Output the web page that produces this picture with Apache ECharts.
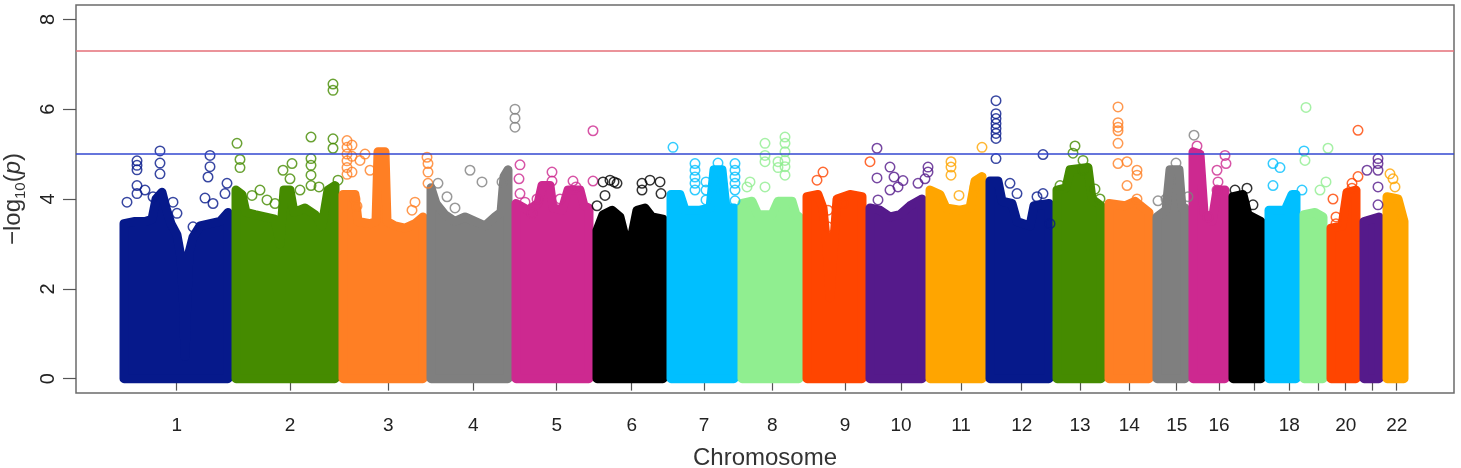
<!DOCTYPE html>
<html><head><meta charset="utf-8">
<script src="https://cdn.jsdelivr.net/npm/echarts@6/dist/echarts.min.js"></script>
<style>html,body{margin:0;padding:0;background:#fff}#chart{width:1461px;height:468px}</style>
</head><body><div id="chart"></div>
<script>
// Chromosome labels and the x positions (cumulative index units) of their axis ticks
const chromosomes = ['1','2','3','4','5','6','7','8','9','10','11','12','13','14','15','16','17','18','19','20','21','22'];
const tickPositions = [100.7,214,312.3,397.3,480.7,555.7,628,696.3,769,825,885,945.7,1004,1053.3,1100.7,1143,1178,1213.3,1242.3,1269.7,1296.7,1320.7];
const hiddenLabels = ['17','19','21'];
const palette = ['#06198b','#458B00','#FF7F24','#7F7F7F','#CD2990','#000000','#00BFFF','#90EE90','#FF4500','#551A8B','#FFA500'];
const yTicks = [0,2,4,6,8];
const suggestiveLine = 5;
const genomeWideLine = 7.3;

// Upper envelope of the dense SNP cloud per chromosome: [position, -log10(p)]
const envelope = [
  [[48,3.45],[59,3.5],[69,3.5],[76,3.55],[80,4.0],[86,4.15],[90,3.8],[95,3.45],[101,3.2],[105,2.7],[107.5,1.7],[109,0.5],[110.5,1.5],[113,2.8],[117,3.15],[124,3.4],[134,3.45],[144,3.5],[152,3.7]],
  [[160,4.2],[166,4.1],[170,3.7],[179,3.65],[189,3.6],[199,3.55],[204,3.0],[208,4.2],[214,4.2],[218,3.7],[229,3.8],[239,3.65],[246,3.4],[252,4.2],[259,4.3]],
  [[267,4.1],[279,4.1],[282,3.5],[294,3.45],[300,3.5],[302,5.05],[309,5.05],[311,3.5],[319,3.4],[329,3.35],[339,3.45],[347,3.6]],
  [[355,4.25],[360,3.9],[369,3.65],[379,3.5],[389,3.6],[399,3.5],[409,3.4],[419,3.6],[425,3.7],[428,4.5],[432,4.65]],
  [[440,3.9],[452,3.75],[462,3.9],[466,4.3],[474,4.3],[477,3.8],[486,3.75],[492,4.2],[504,4.2],[508,3.85],[513,3.8]],
  [[521,3.3],[527,3.65],[536,3.75],[544,3.6],[549,3.15],[556,3.2],[561,3.75],[569,3.8],[576,3.6],[587,3.55]],
  [[595,4.1],[604,4.1],[609,3.75],[624,3.75],[634,3.8],[638,4.65],[646,4.65],[650,3.8],[658,3.8]],
  [[666,3.9],[676,3.95],[682,3.65],[696,3.65],[702,3.95],[716,3.95],[720,3.65],[723,3.6]],
  [[731,4.05],[742,4.1],[747,3.8],[751,2.9],[754,1.8],[757,2.8],[761,4.0],[774,4.1],[786,4.05]],
  [[794,3.8],[804,3.75],[814,3.6],[824,3.65],[834,3.85],[846,4.0]],
  [[854,4.2],[864,4.1],[870,3.8],[884,3.75],[894,3.8],[899,4.4],[906,4.5]],
  [[914,4.4],[922,4.4],[926,3.95],[936,3.9],[941,3.5],[954,3.4],[958,3.85],[973,3.9]],
  [[981,4.2],[990,4.25],[994,4.65],[1012,4.7],[1016,4.0],[1025,3.85]],
  [[1033,3.9],[1049,3.85],[1059,3.95],[1073,3.7]],
  [[1081,3.6],[1090,3.75],[1094,4.65],[1103,4.65],[1106,3.8],[1109,3.8]],
  [[1117,5.05],[1124,5.0],[1128,3.7],[1136,3.5],[1141,4.2],[1149,4.2]],
  [[1157,4.05],[1167,4.1],[1172,3.65],[1185,3.5]],
  [[1193,3.75],[1209,3.75],[1216,4.1],[1220,4.1]],
  [[1228,3.65],[1239,3.7],[1247,3.6]],
  [[1255,3.35],[1266,3.4],[1271,4.15],[1280,4.2]],
  [[1288,3.5],[1303,3.6]],
  [[1311,4.05],[1322,4.0],[1328,3.5]]
];

// Individual SNPs standing out above the cloud: [position, -log10(p)]
const topHits = [
  [[51,3.93],[61,4.85],[61,4.75],[61,4.65],[61,4.3],[61,4.12],[69,4.2],[77,4.05],[84,5.07],[84,4.8],[84,4.56],[97,3.93],[101,3.68],[117,3.38],[129,4.02],[134,4.97],[134,4.72],[132,4.49],[137,3.9],[151,4.35],[149,4.12]],
  [[161,5.24],[164,4.88],[164,4.7],[176,4.08],[184,4.2],[191,3.98],[199,3.9],[207,4.64],[216,4.79],[214,4.45],[224,4.2],[235,5.38],[235,4.9],[235,4.75],[235,4.53],[235,4.3],[243,4.27],[257,6.56],[257,6.42],[257,5.34],[257,5.13],[262,4.42]],
  [[271,5.3],[271,5.15],[271,5.0],[271,4.85],[271,4.7],[271,4.55],[276,5.2],[276,4.95],[276,4.6],[284,4.86],[289,5.0],[294,4.64],[279,4.0],[281,3.84],[339,3.93],[336,3.75],[351,4.93],[352,4.79],[352,4.6],[352,4.35]],
  [[362,4.35],[371,4.05],[379,3.8],[394,4.64],[406,4.38],[426,4.38],[439,6.0],[439,5.8],[439,5.6]],
  [[444,4.76],[443,4.45],[444,4.12],[449,3.93],[456,3.68],[476,4.6],[476,4.4],[497,4.4],[500,4.27],[517,5.52],[517,4.4],[461,4.0],[484,4.0]],
  [[521,3.85],[527,4.38],[529,4.08],[534,4.42],[538,4.38],[541,4.35],[566,4.35],[566,4.2],[574,4.42],[584,4.38],[585,4.12]],
  [[597,5.15],[619,4.79],[619,4.64],[619,4.49],[619,4.35],[619,4.2],[630,4.38],[630,4.2],[630,3.98],[642,4.8],[659,4.79],[659,4.64],[659,4.49],[659,4.35],[659,4.2],[659,3.96]],
  [[689,5.24],[689,4.97],[689,4.83],[709,5.38],[709,5.24],[709,5.05],[709,4.86],[709,4.72],[709,4.53],[702,4.83],[702,4.7],[674,4.38],[689,4.27],[671,4.27]],
  [[741,4.42],[747,4.6],[752,3.75],[752,3.38],[767,3.9],[794,4.83]],
  [[801,5.13],[801,4.47],[814,4.71],[818,4.49],[827,4.41],[822,4.27],[814,4.2],[842,4.35],[852,4.71],[852,4.6],[849,4.45],[802,3.98]],
  [[875,4.83],[875,4.71],[875,4.53],[883,4.08],[906,5.15],[899,4.27]],
  [[920,6.19],[920,5.9],[920,5.79],[920,5.68],[920,5.57],[920,5.46],[920,5.35],[920,4.9],[934,4.35],[941,4.12],[967,4.99],[961,4.05],[967,4.12],[974,3.45]],
  [[999,5.18],[997,5.02],[1007,4.86],[1007,4.64],[984,4.3],[1019,4.22],[1024,4.0]],
  [[1042,6.05],[1042,5.7],[1042,5.6],[1042,5.52],[1042,5.24],[1042,4.79],[1051,4.83],[1061,4.64],[1061,4.53],[1051,4.3],[1061,4.0]],
  [[1100,4.8],[1082,3.96],[1090,4.0],[1112,4.05],[1118,5.42]],
  [[1121,5.18],[1149,4.97],[1150,4.79],[1141,4.64],[1142,4.38],[1141,4.2],[1132,3.6]],
  [[1171,4.24],[1177,3.87],[1159,4.2]],
  [[1197,4.79],[1204,4.7],[1197,4.3],[1228,5.07],[1226,4.2]],
  [[1230,6.04],[1229,4.86],[1252,5.13],[1250,4.38],[1244,4.2]],
  [[1282,5.53],[1282,4.5],[1276,4.35],[1276,4.24],[1257,4.0],[1260,3.6],[1260,3.45]],
  [[1302,4.9],[1302,4.79],[1302,4.64],[1291,4.64],[1302,4.27],[1302,3.87]],
  [[1314,4.56],[1317,4.45],[1319,4.27],[1326,3.53]]
];

const colorOf = i => palette[i % palette.length];
const FONT = '"Liberation Sans", Arial, Helvetica, sans-serif';

const hitData = [];
topHits.forEach((list, i) => list.forEach(p => hitData.push({value: p, itemStyle: {borderColor: colorOf(i)}})));

const labelValues = tickPositions.filter((v, i) => hiddenLabels.indexOf(chromosomes[i]) < 0);

const chart = echarts.init(document.getElementById('chart'), null, {renderer: 'canvas'});
chart.setOption({
  animation: false,
  backgroundColor: '#ffffff',
  grid: {left: 76, right: 7, top: 5, bottom: 75, containLabel: false, outerBoundsMode: 'none',
         show: true, borderColor: '#6b6b6b', borderWidth: 1.5, backgroundColor: 'transparent'},
  xAxis: {
    type: 'value', min: 0, max: 1378,
    axisLine: {show: false}, splitLine: {show: false},
    axisTick: {show: true, customValues: tickPositions, length: 12, lineStyle: {color: '#555', width: 1.2}},
    axisLabel: {
      customValues: labelValues, margin: 23, fontSize: 19, color: '#222', fontFamily: FONT,
      formatter: v => { for (let i = 0; i < tickPositions.length; i++) if (Math.abs(tickPositions[i] - v) < 0.01) return chromosomes[i]; return ''; }
    },
    name: 'Chromosome', nameLocation: 'middle', nameGap: 53,
    nameTextStyle: {fontSize: 24, color: '#333', fontFamily: FONT}
  },
  yAxis: {
    type: 'value', min: -0.32, max: 8.32,
    axisLine: {show: false}, splitLine: {show: false},
    axisTick: {show: true, customValues: yTicks, length: 13, lineStyle: {color: '#555', width: 1.2}},
    axisLabel: {customValues: yTicks, rotate: 90, margin: 18, fontSize: 20, color: '#222', fontFamily: FONT},
    name: '\u2212log{sub|10}({it|p})', nameLocation: 'middle', nameGap: 48, nameRotate: 90,
    nameTextStyle: {
      fontSize: 24, color: '#333', fontFamily: FONT, lineHeight: 30,
      rich: {
        sub: {fontSize: 15, fontFamily: FONT, color: '#333', verticalAlign: 'bottom', lineHeight: 15},
        it: {fontSize: 24, fontFamily: FONT, color: '#333', fontStyle: 'italic', lineHeight: 30}
      }
    }
  },
  series: [
    {
      type: 'custom', coordinateSystem: 'cartesian2d', clip: false, silent: true,
      data: envelope.map((e, i) => [e[0][0], 0, i]),
      encode: {x: 0, y: 1},
      renderItem: function (params, api) {
        const i = api.value(2);
        const env = envelope[i];
        const pts = [[env[0][0], 0]].concat(env, [[env[env.length - 1][0], 0]]).map(p => api.coord(p));
        const c = colorOf(i);
        return {type: 'polygon', shape: {points: pts}, style: {fill: c, stroke: c, lineWidth: 9, lineJoin: 'round'}};
      },
      z: 2
    },
    {
      type: 'scatter', symbol: 'circle', symbolSize: 9.5, silent: true,
      itemStyle: {color: 'rgba(0,0,0,0)', borderWidth: 1.5},
      data: hitData, z: 3,
      markLine: {
        silent: true, symbol: ['none', 'none'], label: {show: false},
        lineStyle: {type: 'solid', width: 1.5},
        data: [
          {yAxis: genomeWideLine, lineStyle: {color: '#e56f78'}},
          {yAxis: suggestiveLine, lineStyle: {color: '#3347d1'}}
        ],
        z: 5
      }
    }
  ]
});
</script></body></html>
